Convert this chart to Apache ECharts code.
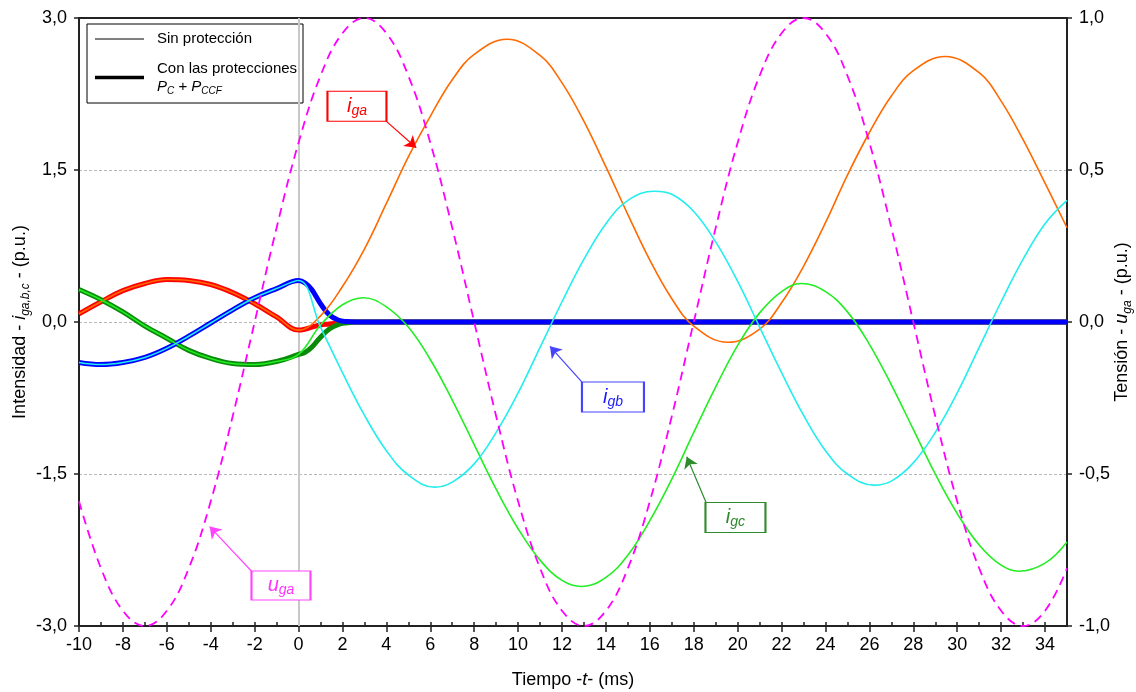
<!DOCTYPE html>
<html>
<head>
<meta charset="utf-8">
<script src="https://cdn.jsdelivr.net/npm/echarts@6/dist/echarts.min.js"></script>
<style>
  html, body { margin: 0; padding: 0; background: #fff; }
  #chart { width: 1136px; height: 692px; }
</style>
</head>
<body>
<div id="chart"></div>
<script>
// tiempo (ms)
const tPre = [-10, -9, -8, -7, -6, -5, -4, -3, -2, -1, 0];
const tProt = [0, 0.3, 0.6, 1.0, 1.4, 1.8, 2.2, 2.6, 3, 35];
const tU = [-10, -9, -8, -7, -6, -5, -4, -3, -2, -1, 0, 1, 2, 3, 4, 5, 6, 7, 8, 9, 10,
  11, 12, 13, 14, 15, 16, 17, 18, 19, 20, 21, 22, 23, 24, 25, 26, 27, 28, 29, 30,
  31, 32, 33, 34, 35];
const tA = [0, 1, 2, 3, 4, 5, 6, 7, 8, 9.5, 11, 12, 13, 14, 15, 16, 17, 18, 19.55, 21, 22,
  23, 24, 25, 26, 27, 28, 29.45, 31, 32, 33, 34, 35];
const tB = [0, 1, 2, 3, 4, 5, 6.2, 7, 8, 9, 10, 11, 12, 13, 14, 15, 16.2, 17, 18, 19, 20,
  21, 22, 23, 24, 25, 26.2, 27, 28, 29, 30, 31, 32, 33, 34, 35];
const tC = [0, 1, 2, 2.95, 4, 5, 6, 7, 8, 9, 10, 11, 12, 12.9, 14, 15, 16, 17, 18, 19, 20,
  21, 22, 22.9, 24, 25, 26, 27, 28, 29, 30, 31, 32, 32.8, 34, 35];

// antes de la falta (t < 0)
const igaPre = [0.08, 0.20, 0.31, 0.38, 0.42, 0.41, 0.37, 0.29, 0.18, 0.05, -0.08];
const igbPre = [-0.40, -0.42, -0.40, -0.35, -0.26, -0.14, -0.01, 0.12, 0.24, 0.33, 0.41];
const igcPre = [0.32, 0.22, 0.10, -0.04, -0.16, -0.28, -0.36, -0.41, -0.42, -0.39, -0.32];

// sin protección
const igaSin = [-0.08, 0.06, 0.35, 0.72, 1.17, 1.63, 2.03, 2.39, 2.64, 2.79, 2.63, 2.36,
  1.98, 1.53, 1.06, 0.61, 0.23, -0.04, -0.20, -0.07, 0.19, 0.55, 0.98, 1.45, 1.87, 2.23,
  2.48, 2.62, 2.46, 2.18, 1.80, 1.37, 0.93];
const igbSin = [0.41, -0.05, -0.50, -0.92, -1.27, -1.51, -1.63, -1.58, -1.40, -1.09, -0.70,
  -0.25, 0.20, 0.62, 0.97, 1.20, 1.29, 1.26, 1.09, 0.79, 0.40, -0.05, -0.50, -0.92, -1.27,
  -1.50, -1.61, -1.57, -1.39, -1.09, -0.70, -0.25, 0.20, 0.62, 0.97, 1.20];
const igcSin = [-0.32, -0.03, 0.17, 0.24, 0.15, -0.05, -0.37, -0.77, -1.21, -1.65, -2.04,
  -2.35, -2.55, -2.61, -2.52, -2.30, -1.96, -1.55, -1.09, -0.64, -0.23, 0.09, 0.30, 0.38,
  0.30, 0.10, -0.22, -0.62, -1.06, -1.50, -1.89, -2.20, -2.40, -2.46, -2.38, -2.17];

// con las protecciones Pc + Pccf
const igaCon = [-0.08, -0.07, -0.05, -0.03, -0.02, -0.01, 0, 0, 0, 0];
const igbCon = [0.41, 0.385, 0.32, 0.18, 0.07, 0.02, 0.004, 0, 0, 0];
const igcCon = [-0.32, -0.30, -0.25, -0.15, -0.07, -0.025, -0.008, 0, 0, 0];

// tensión (eje derecho)
const uga = [-0.59, -0.81, -0.95, -1.00, -0.95, -0.81, -0.59, -0.31, 0.00, 0.31, 0.59, 0.81,
  0.95, 1.00, 0.95, 0.81, 0.59, 0.31, 0.00, -0.31, -0.59, -0.81, -0.95, -1.00, -0.95, -0.81,
  -0.59, -0.31, 0.00, 0.31, 0.59, 0.81, 0.95, 1.00, 0.95, 0.81, 0.59, 0.31, 0.00, -0.31,
  -0.59, -0.81, -0.95, -1.00, -0.95, -0.81];

const FONT = 'Liberation Sans, Arial, sans-serif';

const zip = (ts, vs) => ts.map((t, k) => [t, vs[k]]);
const join = (pre, ts, vs) => zip(tPre, pre).concat(zip(ts.slice(1), vs.slice(1)));

// etiquetas con flecha
function nota(sub, color, borde, caja, tam, desde, hasta) {
  return {
    markPoint: {
      z: 10,
      silent: true,
      symbol: 'rect',
      symbolSize: tam,
      itemStyle: { color: '#fff', borderColor: borde, borderWidth: 1.5 },
      label: {
        show: true,
        position: 'inside',
        formatter: '{i|' + sub[0] + '}{s|' + sub.slice(1) + '}',
        rich: {
          i: { fontFamily: FONT, fontStyle: 'italic', fontSize: 20, color: color, lineHeight: 24, verticalAlign: 'middle' },
          s: { fontFamily: FONT, fontStyle: 'italic', fontSize: 14, color: color, lineHeight: 14, verticalAlign: 'bottom' }
        }
      },
      data: [{ coord: caja }]
    },
    markLine: {
      z: 10,
      silent: true,
      symbol: ['none', 'arrow'],
      symbolSize: 11,
      label: { show: false },
      lineStyle: { color: borde, width: 1.2, type: 'solid' },
      data: [[{ coord: desde }, { coord: hasta }]]
    }
  };
}

function linea(name, data, color, width, z, extra) {
  return Object.assign({
    name: name,
    type: 'line',
    data: data,
    showSymbol: false,
    smooth: 0.4,
    z: z,
    lineStyle: { color: color, width: width },
    itemStyle: { color: color },
    emphasis: { disabled: true }
  }, extra || {});
}

const fmt = v => v.toFixed(1).replace('.', ',');

const nameRich = {
  n: { fontFamily: FONT, fontSize: 18, color: '#000', lineHeight: 24, verticalAlign: 'middle' },
  i: { fontFamily: FONT, fontSize: 18, color: '#000', fontStyle: 'italic', lineHeight: 24, verticalAlign: 'middle' },
  s: { fontFamily: FONT, fontSize: 12, color: '#000', fontStyle: 'italic', lineHeight: 12, verticalAlign: 'bottom' }
};

const chart = echarts.init(document.getElementById('chart'));
chart.setOption({
  animation: false,
  backgroundColor: '#fff',
  textStyle: { fontFamily: FONT },
  grid: { left: 79, right: 69, top: 18, bottom: 66, containLabel: false, outerBoundsMode: 'none' },
  xAxis: [{
    type: 'value', min: -10, max: 35, interval: 2,
    position: 'bottom',
    name: '{n|Tiempo -}{i|t}{n|- (ms)}',
    nameLocation: 'middle', nameGap: 42, nameMoveOverlap: false,
    nameTextStyle: { rich: nameRich },
    axisLine: { show: true, onZero: false, lineStyle: { color: '#222', width: 2 } },
    axisTick: { show: true, length: 6, lineStyle: { color: '#222', width: 1.5 } },
    axisLabel: {
      fontSize: 18, color: '#000', margin: 10, fontFamily: FONT,
      showMaxLabel: false,
      formatter: v => (v === 35 ? '' : String(v))
    },
    splitLine: { show: false }
  }, {
    type: 'value', min: -10, max: 35, position: 'top',
    axisLine: { show: true, onZero: false, lineStyle: { color: '#222', width: 2 } },
    axisTick: { show: false }, axisLabel: { show: false }, splitLine: { show: false }
  }, {
    type: 'value', min: -10, max: 35, interval: 1, position: 'bottom', offset: 0,
    axisLine: { show: false, onZero: false },
    axisTick: { show: true, inside: true, length: 4, lineStyle: { color: '#222', width: 1.5 } },
    axisLabel: { show: false }, splitLine: { show: false }
  }],
  yAxis: [{
    type: 'value', min: -3, max: 3, interval: 1.5, position: 'left',
    name: '{n|Intensidad - }{i|i}{s|ga,b,c}{n| - (p.u.)}',
    nameLocation: 'middle', nameGap: 47, nameRotate: 90, nameMoveOverlap: false,
    nameTextStyle: { rich: nameRich },
    axisLine: { show: true, onZero: false, lineStyle: { color: '#222', width: 2 } },
    axisTick: { show: true, length: 5, lineStyle: { color: '#222', width: 1.5 } },
    axisLabel: { fontSize: 18, color: '#000', margin: 12, fontFamily: FONT, formatter: fmt },
    splitLine: { show: true, lineStyle: { color: '#b8b8b8', width: 1, type: [3, 2] } }
  }, {
    type: 'value', min: -1, max: 1, interval: 0.5, position: 'right',
    name: '{n|Tensión - }{i|u}{s|ga}{n| - (p.u.)}',
    nameLocation: 'middle', nameGap: 43, nameRotate: 90, nameMoveOverlap: false,
    nameTextStyle: { rich: nameRich },
    axisLine: { show: true, onZero: false, lineStyle: { color: '#222', width: 2 } },
    axisTick: { show: true, length: 5, lineStyle: { color: '#222', width: 1.5 } },
    axisLabel: { fontSize: 18, color: '#000', margin: 12, fontFamily: FONT, formatter: fmt },
    splitLine: { show: false }
  }],
  series: [
    linea('iga con', join(igaPre, tProt, igaCon), '#ff0000', 5, 2, {
      markLine: {
        z: 1, silent: true, symbol: ['none', 'none'], label: { show: false },
        lineStyle: { color: '#c8c8c8', width: 2, type: 'solid' },
        data: [{ xAxis: 0 }]
      }
    }),
    linea('igc con', join(igcPre, tProt, igcCon), '#0a8a0a', 5, 3),
    linea('igb con', join(igbPre, tProt, igbCon), '#0000ff', 5, 4),
    linea('iga sin', join(igaPre, tA, igaSin), '#ff6a00', 1.6, 5,
      nota('iga', '#ff0000', '#ff0000', [2.66, 2.13], [59, 30], [3.95, 1.99], [5.36, 1.72])),
    linea('igc sin', join(igcPre, tC, igcSin), '#22ee22', 1.6, 5,
      nota('igc', '#2a8a2a', '#2e8b2e', [19.9, -1.93], [60, 30], [18.6, -1.80], [17.68, -1.33])),
    linea('igb sin', join(igbPre, tB, igbSin), '#22eeee', 1.6, 5,
      nota('igb', '#1a1aff', '#4444ff', [14.32, -0.74], [62, 30], [12.9, -0.59], [11.45, -0.24])),
    linea('uga', zip(tU, uga), '#ff00ff', 1.8, 6, Object.assign({
      yAxisIndex: 1,
      lineStyle: { color: '#ff00ff', width: 1.8, type: [9, 6] }
    }, nota('uga', '#ff33ff', '#ff44ff', [-0.8, -0.867], [59, 29], [-2.14, -0.82], [-4.05, -0.673])))
  ],
  graphic: [{
    type: 'group', z: 100,
    children: [
      { type: 'rect', shape: { x: 87, y: 24, width: 216, height: 79 },
        style: { fill: '#fff', stroke: '#000', lineWidth: 1 } },
      { type: 'line', shape: { x1: 95, y1: 39, x2: 144, y2: 39 },
        style: { stroke: '#000', lineWidth: 1 } },
      { type: 'line', shape: { x1: 95, y1: 77.5, x2: 144, y2: 77.5 },
        style: { stroke: '#000', lineWidth: 3.5 } },
      { type: 'text', x: 157, y: 39,
        style: { text: 'Sin protección', font: '15px ' + FONT, fill: '#000', verticalAlign: 'middle' } },
      { type: 'text', x: 157, y: 69,
        style: { text: 'Con las protecciones', font: '15px ' + FONT, fill: '#000', verticalAlign: 'middle' } },
      { type: 'text', x: 157, y: 87,
        style: {
          text: '{p|P}{s|C}{n| + }{p|P}{s|CCF}',
          verticalAlign: 'middle',
          rich: {
            p: { fontFamily: FONT, fontSize: 15, fontStyle: 'italic', fill: '#000', lineHeight: 18, verticalAlign: 'middle' },
            n: { fontFamily: FONT, fontSize: 15, fill: '#000', lineHeight: 18, verticalAlign: 'middle' },
            s: { fontFamily: FONT, fontSize: 10, fontStyle: 'italic', fill: '#000', lineHeight: 10, verticalAlign: 'bottom' }
          }
        } }
    ]
  }]
});
</script>
</body>
</html>
